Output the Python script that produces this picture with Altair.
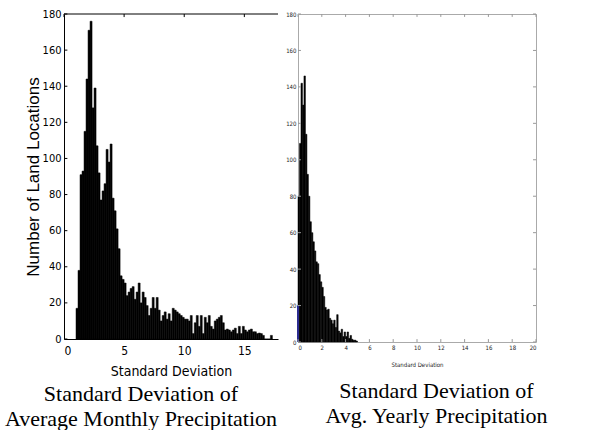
import altair as alt
import pandas as pd

# ---------------- data ----------------
LEFT_BIN_START = 1.0
LEFT_BIN_WIDTH = 1 / 6
LEFT_COUNTS = [
    17, 38, 91, 93, 115, 144, 171, 176, 128, 139, 107, 92, 77, 82, 86, 105, 98, 108, 78, 71,
    61, 50, 35, 33,
    31, 24, 26, 28, 29, 22, 26, 31, 20, 26,
    23, 18.5, 13, 17, 23, 17, 23, 16, 10, 13,
    15, 11, 14, 10, 17, 16, 15, 14, 13, 12,
    11, 11, 10, 13, 3, 9, 13, 7, 13, 3,
    12, 9, 13, 7, 5.5, 10, 11, 12, 13, 9,
    5, 5.5, 5, 4, 5, 6, 3, 7, 3, 7,
    5, 4, 5, 5.5, 4, 4, 3, 3.3, 3, 2,
    0, 0, 0, 2,
]

RIGHT_BIN_START = 0.0
RIGHT_BIN_WIDTH = 0.125
RIGHT_COUNTS = [
    80, 109, 142, 130, 146, 114, 92, 80, 66, 60,
    55, 50, 44, 43, 37, 33, 30, 25, 19, 17.5,
    18, 13, 12, 10, 12, 8, 15, 6, 5, 7,
    3, 5.5, 3, 5.5, 2, 3.6, 1.5, 1, 1, 0.5,
]
RIGHT_BLUE_X = [0.0]
RIGHT_BLUE_COUNT = [20]

LEFT_X_TICKS = [0, 5, 10, 15]
LEFT_X_MAX = 17.8
RIGHT_X_TICKS = list(range(0, 21, 2))
RIGHT_X_MAX = 20
Y_TICKS = list(range(0, 181, 20))
Y_MAX = 180

LEFT_X_TITLE = "Standard Deviation"
LEFT_Y_TITLE = "Number of Land Locations"
RIGHT_X_TITLE = "Standard Deviation"
LEFT_CAPTION = ["Standard Deviation of", "Average Monthly Precipitation"]
RIGHT_CAPTION = ["Standard Deviation of", "Avg. Yearly Precipitation"]

NARROW = "DejaVu Sans Condensed, Liberation Sans, Arial"
SANS = "Liberation Sans, Arial"
SERIF = "Liberation Serif, Times New Roman, serif"

# ---------------- tables ----------------
def hist_frame(start, width, counts):
    n = len(counts)
    return pd.DataFrame({
        "x0": [start + i * width for i in range(n)],
        "x1": [start + (i + 1) * width for i in range(n)],
        "base": [0] * n,
        "count": counts,
    })

left_df = hist_frame(LEFT_BIN_START, LEFT_BIN_WIDTH, LEFT_COUNTS)
right_df = hist_frame(RIGHT_BIN_START, RIGHT_BIN_WIDTH, RIGHT_COUNTS)
blue_df = pd.DataFrame({"x0": RIGHT_BLUE_X, "base": [0] * len(RIGHT_BLUE_X), "count": RIGHT_BLUE_COUNT})


def tick_layers(xticks, yticks, xs, ys, xax, yax, xlen, ylen, color, top=True, right=False, bottom=True):
    """Inward tick marks drawn through the chart's own scales."""
    layers = []
    x_lo, x_hi = xs.domain
    y_lo, y_hi = ys.domain
    sides = [("left", True), ("right", right), ("bottom", bottom), ("top", top)]
    for side, on in sides:
        if not on:
            continue
        if side in ("left", "right"):
            a = x_lo if side == "left" else x_hi - xlen
            df = pd.DataFrame({"count": yticks, "x0": [a] * len(yticks), "x1": [a + xlen] * len(yticks)})
            layers.append(alt.Chart(df).mark_rule(color=color, strokeWidth=1).encode(
                y=alt.Y("count:Q", scale=ys, axis=yax),
                x=alt.X("x0:Q", scale=xs, axis=xax), x2="x1:Q"))
        else:
            a = y_lo if side == "bottom" else y_hi - ylen
            df = pd.DataFrame({"x0": xticks, "base": [a] * len(xticks), "count": [a + ylen] * len(xticks)})
            layers.append(alt.Chart(df).mark_rule(color=color, strokeWidth=1).encode(
                x=alt.X("x0:Q", scale=xs, axis=xax),
                y=alt.Y("base:Q", scale=ys, axis=yax), y2="count:Q"))
    return layers

# ---------------- left panel ----------------
lxs = alt.Scale(domain=[0, LEFT_X_MAX], nice=False, zero=False)
lys = alt.Scale(domain=[0, Y_MAX], nice=False)
lxax = alt.Axis(
    values=LEFT_X_TICKS, format="d", title=LEFT_X_TITLE, ticks=False, grid=False,
    domainColor="black", labelColor="black", titleColor="black", labelOverlap=False,
    labelFont=NARROW, labelFontSize=12, titleFont=NARROW, titleFontSize=14,
    titleFontWeight="normal", labelPadding=6, titlePadding=8)
lyax = alt.Axis(
    values=Y_TICKS, format="d", title=LEFT_Y_TITLE, ticks=False, grid=False,
    domainColor="black", labelColor="black", titleColor="black", labelOverlap=False,
    labelFont=NARROW, labelFontSize=11, titleFont=SANS,
    titleFontSize=17, titleFontWeight="normal", labelPadding=3, titleX=-22)

left_bars = alt.Chart(left_df).mark_bar(color="black", stroke="black", strokeWidth=0.5).encode(
    x=alt.X("x0:Q", scale=lxs, axis=lxax),
    x2="x1:Q",
    y=alt.Y("base:Q", scale=lys, axis=lyax),
    y2="count:Q",
)
left_top = alt.Chart(pd.DataFrame({"count": [Y_MAX]})).mark_rule(color="black").encode(
    y=alt.Y("count:Q", scale=lys, axis=lyax))

left = alt.layer(
    left_bars, left_top,
    *tick_layers(LEFT_X_TICKS, Y_TICKS, lxs, lys, lxax, lyax, 0.28, 1.7, "black",
                 top=True, right=False, bottom=False),
).properties(
    width=214, height=325,
    title=alt.TitleParams(LEFT_CAPTION, orient="bottom", font=SERIF, fontSize=22,
                          fontWeight="normal", color="black", lineHeight=25,
                          offset=6, anchor="middle", frame="group", dx=-30),
)

# ---------------- right panel ----------------
rxs = alt.Scale(domain=[0, RIGHT_X_MAX], nice=False, zero=False)
rys = alt.Scale(domain=[0, Y_MAX], nice=False)
rxax = alt.Axis(
    values=RIGHT_X_TICKS, format="d", title=RIGHT_X_TITLE, ticks=False, grid=False,
    domain=False, labelColor="#222", titleColor="#222", labelOverlap=False,
    labelFont=NARROW, labelFontSize=6, titleFont=NARROW, titleFontSize=6,
    titleFontWeight="normal", labelPadding=2, titlePadding=11)
ryax = alt.Axis(
    values=Y_TICKS, format="d", title=None, ticks=False, grid=False,
    domain=False, labelColor="#222", labelOverlap=False,
    labelFont=NARROW, labelFontSize=6, labelPadding=2)

right_bars = alt.Chart(right_df).mark_bar(color="black", stroke="black", strokeWidth=0.5).encode(
    x=alt.X("x0:Q", scale=rxs, axis=rxax),
    x2="x1:Q",
    y=alt.Y("base:Q", scale=rys, axis=ryax),
    y2="count:Q",
)
right_blue = alt.Chart(blue_df).mark_rule(color="#2b2b8f", strokeWidth=2).encode(
    x=alt.X("x0:Q", scale=rxs, axis=rxax),
    y=alt.Y("base:Q", scale=rys, axis=ryax),
    y2="count:Q",
)

right = alt.layer(
    right_bars, right_blue,
    *tick_layers(RIGHT_X_TICKS, Y_TICKS, rxs, rys, rxax, ryax, 0.25, 1.6, "#999",
                 top=True, right=True, bottom=True),
).properties(
    width=238, height=328,
    view=alt.ViewBackground(stroke="#aaaaaa", strokeWidth=1),
    title=alt.TitleParams(RIGHT_CAPTION, orient="bottom", font=SERIF, fontSize=22,
                          fontWeight="normal", color="black", lineHeight=25,
                          offset=14, anchor="middle", frame="group", dx=19.5),
)

chart = alt.hconcat(left, right, spacing=6).properties(
    padding={"left": 4, "top": 8, "right": 0, "bottom": 0},
    background="white",
).configure_view(strokeWidth=0)

chart.save("out.html", embed_options={"renderer": "svg", "actions": False})
